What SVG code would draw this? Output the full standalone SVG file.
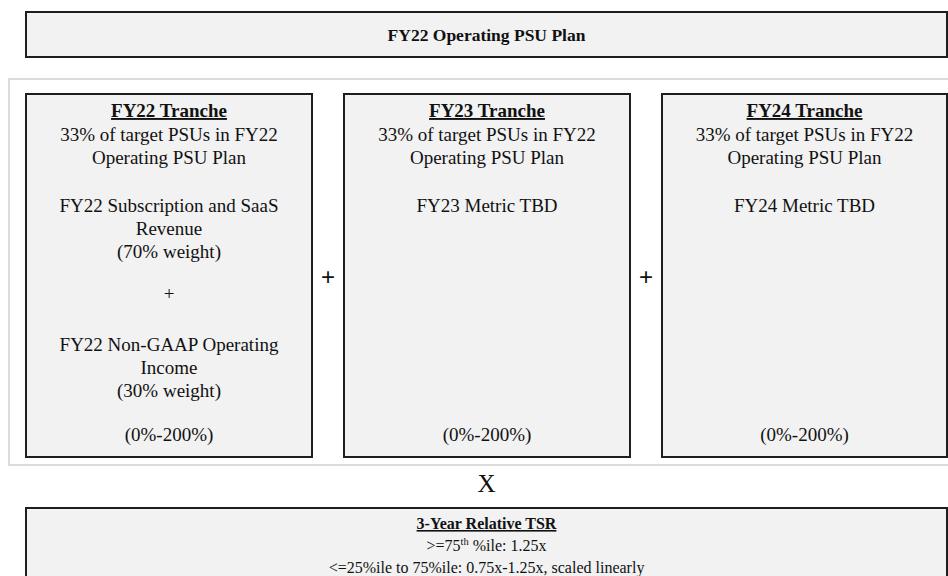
<svg xmlns="http://www.w3.org/2000/svg" width="948" height="576" viewBox="0 0 948 576">
<style>
.box{fill:#f2f2f2;stroke:#1e1e1e;stroke-width:2}
.t{font-family:"Liberation Serif","Times New Roman",serif;font-size:19px;fill:#111;text-anchor:middle}
.b{font-weight:bold}
.u{text-decoration:underline}
.op{font-family:"Liberation Sans",Arial,sans-serif;font-size:24px;fill:#111;text-anchor:middle}
.s{font-size:16px}
</style>
<rect width="948" height="576" fill="#ffffff"/>
<g id="plan">
<rect class="box" x="26" y="12" width="921" height="45"/>
<text class="t b" x="486.5" y="41" style="font-size:17.5px">FY22 Operating PSU Plan</text>
</g>
<g id="container">
<rect x="9" y="79" width="945" height="386" fill="#ffffff" stroke="#dcdcdc" stroke-width="2"/>
</g>
<g id="fy22">
<rect class="box" x="26" y="94" width="286" height="363"/>
<text class="t b u" x="169" y="117">FY22 Tranche</text>
<text class="t" x="169" y="140.5">33% of target PSUs in FY22</text>
<text class="t" x="169" y="164">Operating PSU Plan</text>
<text class="t" x="169" y="211.5">FY22 Subscription and SaaS</text>
<text class="t" x="169" y="234.5">Revenue</text>
<text class="t" x="169" y="257.5">(70% weight)</text>
<text class="t" x="169" y="300">+</text>
<text class="t" x="169" y="350.5">FY22 Non-GAAP Operating</text>
<text class="t" x="169" y="373.5">Income</text>
<text class="t" x="169" y="396.5">(30% weight)</text>
<text class="t" x="169" y="441">(0%-200%)</text>
</g>
<g id="fy23">
<rect class="box" x="344" y="94" width="286" height="363"/>
<text class="t b u" x="487" y="117">FY23 Tranche</text>
<text class="t" x="487" y="140.5">33% of target PSUs in FY22</text>
<text class="t" x="487" y="164">Operating PSU Plan</text>
<text class="t" x="487" y="211.5">FY23 Metric TBD</text>
<text class="t" x="487" y="441">(0%-200%)</text>
</g>
<g id="fy24">
<rect class="box" x="662" y="94" width="285" height="363"/>
<text class="t b u" x="804.5" y="117">FY24 Tranche</text>
<text class="t" x="804.5" y="140.5">33% of target PSUs in FY22</text>
<text class="t" x="804.5" y="164">Operating PSU Plan</text>
<text class="t" x="804.5" y="211.5">FY24 Metric TBD</text>
<text class="t" x="804.5" y="441">(0%-200%)</text>
</g>
<g id="connectors">
<text class="op" x="328" y="285">+</text>
<text class="op" x="646" y="285">+</text>
<text class="t" x="486.5" y="492" style="font-size:25px">X</text>
</g>
<g id="tsr">
<rect class="box" x="26" y="508" width="921" height="80"/>
<text class="t b u s" x="486.5" y="529">3-Year Relative TSR</text>
<text class="t s" x="486.5" y="551">&gt;=75<tspan font-size="10.5" dy="-6">th</tspan><tspan dy="6"> %ile: 1.25x</tspan></text>
<text class="t s" x="486.5" y="573">&lt;=25%ile to 75%ile: 0.75x-1.25x, scaled linearly</text>
</g>
</svg>
